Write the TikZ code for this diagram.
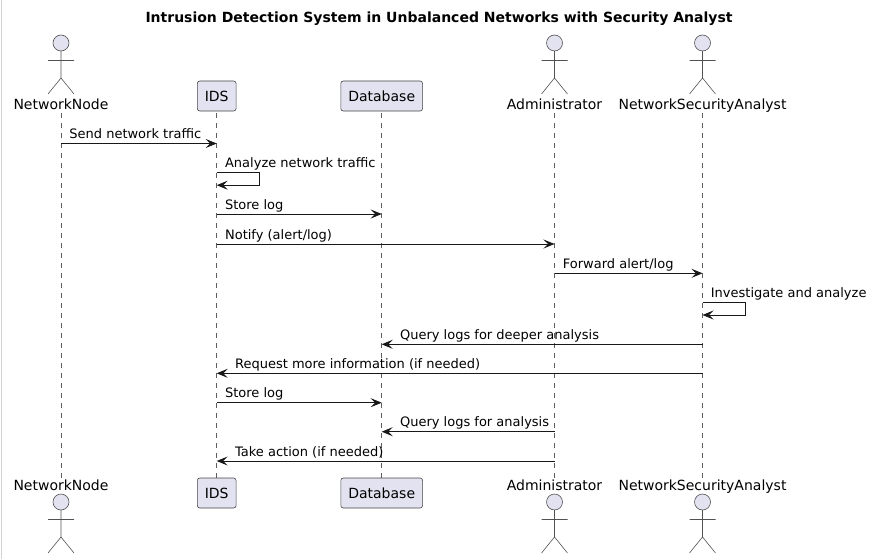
\documentclass[tikz,border=0pt]{standalone}
\usepackage{fontspec}
\setmainfont{DejaVu Sans}
\usetikzlibrary{arrows.meta}
\definecolor{umlfill}{HTML}{E2E2F0}
\definecolor{umlline}{HTML}{181818}
\tikzset{
	actorline/.style={draw=umlline!75, line width=0.6pt},
	partbox/.style={draw=umlline!80, fill=umlfill, line width=0.6pt, rounded corners=2.5pt,
		inner xsep=7.5pt, inner ysep=0pt, minimum height=30pt, font=\fontsize{14}{16}\selectfont},
	actorname/.style={anchor=base, inner sep=0pt, font=\fontsize{14}{16}\selectfont},
	lifeline/.style={draw=umlline!70, line width=0.5pt, dash pattern=on 5pt off 5pt},
	msg/.style={draw=umlline, line width=0.8pt, -{Stealth[length=11pt, width=9pt, inset=4.5pt]}},
	msglabel/.style={anchor=base west, inner sep=0pt, yshift=5pt, font=\fontsize{13}{15}\selectfont},
}
\def\umlactor(#1,#2){
	\begin{scope}[shift={(#1,#2)}]
		\draw[actorline, fill=umlfill] (0,0) circle[radius=8pt];
		\draw[actorline] (0,8) -- (0,35) (-13,17.5) -- (13,17.5) (-13,51) -- (0,35) -- (13,51);
	\end{scope}
}

\begin{document}
\begin{tikzpicture}[x=1pt, y=-1pt]
	\useasboundingbox (0,0) rectangle (874,559);
	%%%%% START %%%%%
	\draw[gray!35, line width=1pt] (1,0) -- (1,559);
	\node[anchor=base, inner sep=0pt, font=\fontsize{14}{16}\selectfont\bfseries] (title) at (439,22.7)
		{Intrusion Detection System in Unbalanced Networks with Security Analyst};
	
	% lifeline positions
	\coordinate (nn) at (61,111);
	\coordinate (ids) at (216.7,111);
	\coordinate (db) at (381.7,111);
	\coordinate (adm) at (554.5,111);
	\coordinate (nsa) at (702.5,111);
	
	% lifelines
	\foreach \p in {nn,ids,db,adm,nsa}
		\draw[lifeline] (\p |- 0,113) -- (\p |- 0,478);
	
	% heads
	\umlactor(61,43)
	\umlactor(554.5,43)
	\umlactor(702.5,43)
	\node[actorname] (nnTop) at (61,109.3) {NetworkNode};
	\node[actorname] (admTop) at (554.5,109.3) {Administrator};
	\node[actorname] (nsaTop) at (702.5,109.3) {NetworkSecurityAnalyst};
	\node[partbox] (idsTop) at (216.7,96) {IDS};
	\node[partbox] (dbTop) at (381.7,96) {Database};
	
	% feet
	\umlactor(61,502)
	\umlactor(554.5,502)
	\umlactor(702.5,502)
	\node[actorname] (nnBot) at (61,490.7) {NetworkNode};
	\node[actorname] (admBot) at (554.5,490.7) {Administrator};
	\node[actorname] (nsaBot) at (702.5,490.7) {NetworkSecurityAnalyst};
	\node[partbox] (idsBot) at (216.7,493) {IDS};
	\node[partbox] (dbBot) at (381.7,493) {Database};
	
	% messages to the right
	\foreach \y/\a/\b/\t in {143.5/nn/ids/{Send network traffic}, 214/ids/db/{Store log},
			244/ids/adm/{Notify (alert/log)}, 273.3/adm/nsa/{Forward alert/log}, 402.7/ids/db/{Store log}}
		\draw[msg] (\a |- 0,\y) node[msglabel, xshift=8pt] {\t} -- (\b |- 0,\y);
	
	% messages to the left
	\foreach \y/\a/\b/\t in {344.3/nsa/db/{Query logs for deeper analysis},
			373.3/nsa/ids/{Request more information (if needed)},
			431.7/adm/db/{Query logs for analysis}, 461/adm/ids/{Take action (if needed)}}
		\draw[msg] (\a |- 0,\y) -- (\b |- 0,\y) node[msglabel, xshift=18pt] {\t};
	
	% self messages
	\draw[msg] (ids |- 0,172.7) node[msglabel, xshift=8pt] {Analyze network traffic}
		-- ++(43,0) -- ++(0,12.5) -- ++(-43,0);
	\draw[msg] (nsa |- 0,302.3) node[msglabel, xshift=8pt] {Investigate and analyze}
		-- ++(43,0) -- ++(0,12.7) -- ++(-43,0);
	%%%%% END %%%%%
\end{tikzpicture}
\end{document}
